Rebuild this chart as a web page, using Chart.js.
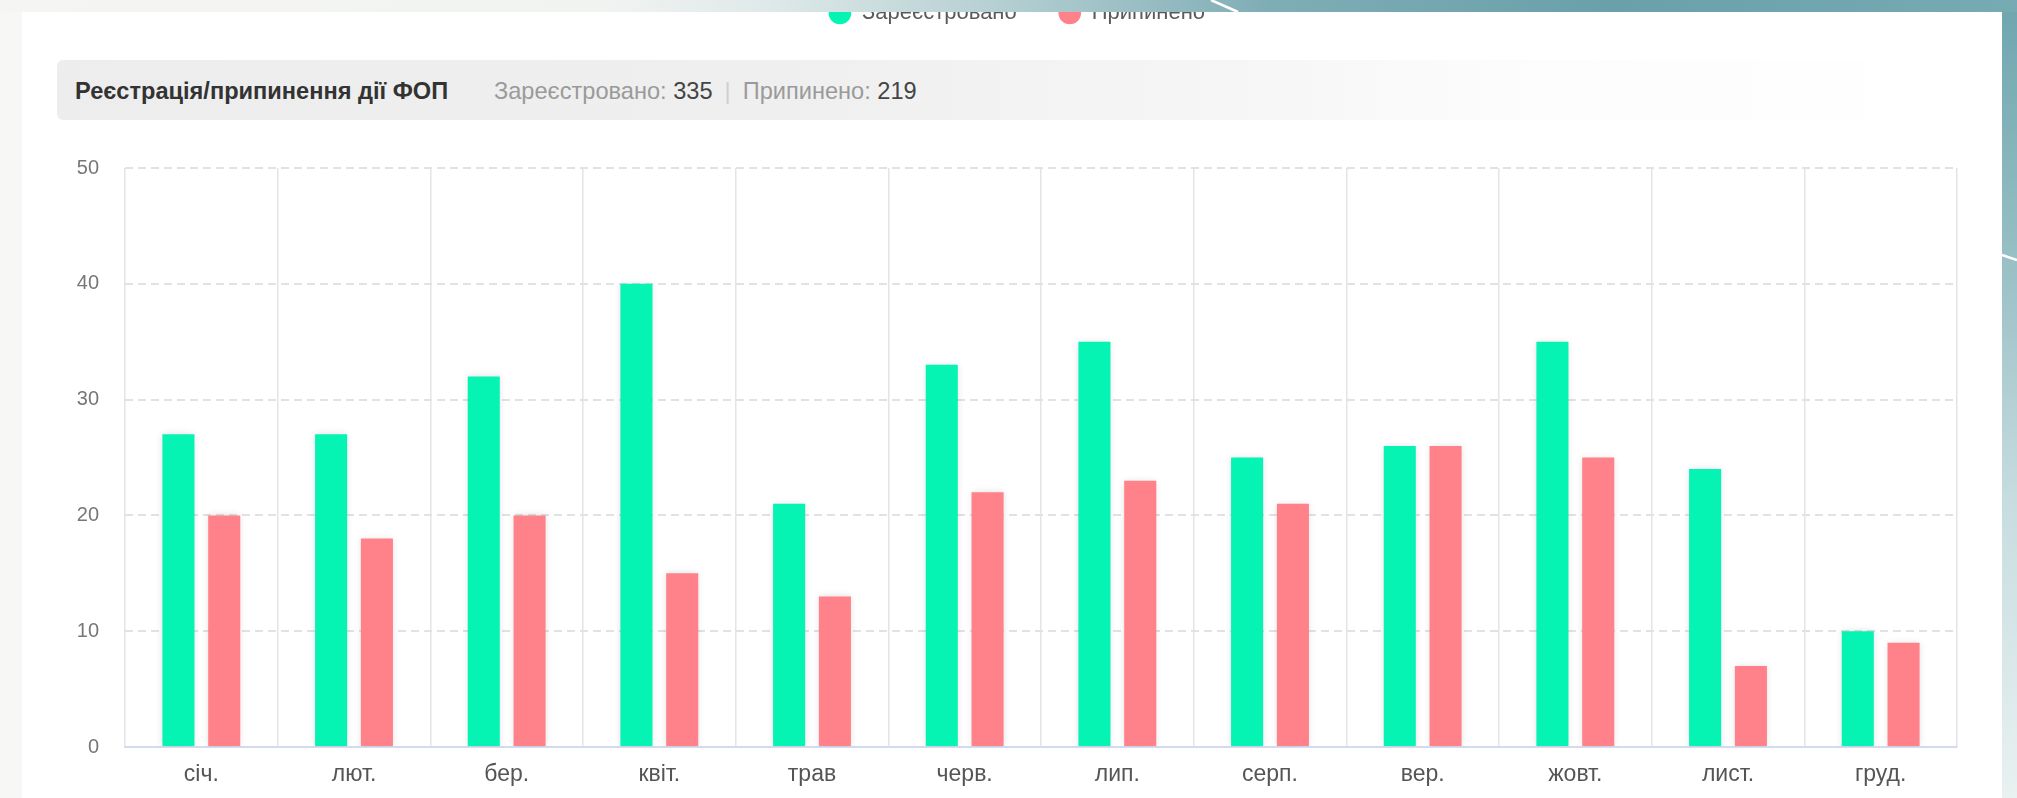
<!DOCTYPE html>
<html>
<head>
<meta charset="utf-8">
<script src="https://cdn.jsdelivr.net/npm/chart.js@4.4.0/dist/chart.umd.min.js"></script>
<style>
  html, body { margin:0; padding:0; width:2017px; height:798px; overflow:hidden; background:#f7f7f5;
    font-family:"Liberation Sans", Arial, sans-serif; }
  #panel { position:absolute; left:22px; top:0; width:1980px; height:798px; background:#ffffff; }
  #rightStrip { position:absolute; left:2002px; top:0; width:15px; height:798px;
    background:linear-gradient(to bottom, #6fa5ae 0%, #8db9bf 25%, #a3c6cb 40%, #c6dcdf 62%, #e9f1f1 100%); }
  #header { position:absolute; left:57px; top:60px; width:1911px; height:60px; border-radius:6px;
    background:linear-gradient(to right, #ededed 0%, #efefef 38%, #f6f6f6 62%, #fcfcfc 76%, #ffffff 100%); }
  #header span.t { position:absolute; top:1px; line-height:60px; white-space:nowrap; }
  #hTitle { left:18px; font-weight:bold; font-size:23.6px; color:#333333; }
  #hStats { left:437px; font-size:23.6px; color:#9a9a9a; }
  #hStats b { font-weight:normal; color:#444444; }
  #hStats i { font-style:normal; color:#cfcfcf; margin:0 12px 0 12px; }
  #wrap { position:absolute; left:0; top:0; width:2017px; height:798px; z-index:2; }
  #band { position:absolute; left:0; top:0; width:2017px; height:12px; z-index:5;
    background:linear-gradient(to right, #f5f6f4 0%, #f1f3f1 30%, #dfe9e9 38%, #b3ced1 50%, #7fadb5 63%, #69a0aa 80%, #77abb4 100%); }
  #deco { position:absolute; left:0; top:0; z-index:6; }
</style>
</head>
<body>
<div id="panel"></div>
<div id="rightStrip"></div>
<div id="header">
  <span class="t" id="hTitle">Реєстрація/припинення дії ФОП</span>
  <span class="t" id="hStats"></span>
</div>
<div id="wrap"><canvas id="c" width="2017" height="798"></canvas></div>
<div id="band"></div>
<svg id="deco" width="2017" height="798">
  <line x1="1211" y1="0" x2="1238" y2="12" stroke="#ffffff" stroke-width="2.5"/>
  <line x1="2002" y1="255" x2="2017" y2="260" stroke="#ffffff" stroke-width="2.5"/>
</svg>
<script>
const months = ['січ.', 'лют.', 'бер.', 'квіт.', 'трав', 'черв.', 'лип.', 'серп.', 'вер.', 'жовт.', 'лист.', 'груд.'];
const seriesNames = ['Зареєстровано', 'Припинено'];
const registered = [27, 27, 32, 40, 21, 33, 35, 25, 26, 35, 24, 10];
const terminated = [20, 18, 20, 15, 13, 22, 23, 21, 26, 25, 7, 9];
const yTicks = [0, 10, 20, 30, 40, 50];

const sum = a => a.reduce((s, v) => s + v, 0);
document.getElementById('hStats').innerHTML =
  seriesNames[0] + ': <b>' + sum(registered) + '</b><i>|</i>' + seriesNames[1] + ': <b>' + sum(terminated) + '</b>';

const FONT = '"Liberation Sans", Arial, sans-serif';

const barShadow = {
  id: 'barShadow',
  beforeDatasetsDraw(chart) {
    const c = chart.ctx; c.save();
    c.shadowColor = 'rgba(0,0,0,0.13)'; c.shadowBlur = 7; c.shadowOffsetX = 0; c.shadowOffsetY = 0;
  },
  afterDatasetsDraw(chart) { chart.ctx.restore(); }
};

new Chart(document.getElementById('c'), {
  type: 'bar',
  data: {
    labels: months,
    datasets: [
      { label: seriesNames[0], data: registered, backgroundColor: '#05f4b4', borderWidth: 0,
        categoryPercentage: 0.6, barPercentage: 0.7 },
      { label: seriesNames[1], data: terminated, backgroundColor: '#ff8189', borderWidth: 0,
        categoryPercentage: 0.6, barPercentage: 0.7 }
    ]
  },
  options: {
    responsive: false,
    animation: false,
    layout: { padding: { top: -40, left: 77, right: 60, bottom: 0 } },
    plugins: {
      legend: {
        display: true, position: 'top', align: 'center',
        labels: { usePointStyle: true, pointStyle: 'circle', boxWidth: 22, boxHeight: 16,
          padding: 42, color: '#5a5a5a', font: { family: FONT, size: 22 } }
      },
      title: { display: true, text: ' ', weight: 500, padding: { top: 122, bottom: 0 },
        font: { size: 10, family: FONT } },
      tooltip: { enabled: false }
    },
    scales: {
      x: {
        grid: { display: true, offset: true, drawTicks: false, color: '#e4e4e4', lineWidth: 1.5 },
        border: { display: true, color: '#d5dbef', width: 2 },
        ticks: { padding: 14, color: '#555555', font: { family: FONT, size: 23 } },
        afterFit: s => { s.height = 51; }
      },
      y: {
        min: 0, max: 50,
        afterBuildTicks: s => { s.ticks = yTicks.map(v => ({ value: v })); },
        grid: { display: true, drawTicks: false, color: '#e2e2e2', lineWidth: 2 },
        border: { display: false, dash: [8, 5] },
        ticks: { padding: 26, color: '#777777', font: { family: FONT, size: 20 } },
        afterFit: s => { s.width = 48; }
      }
    }
  },
  plugins: [barShadow]
});
</script>
</body>
</html>
